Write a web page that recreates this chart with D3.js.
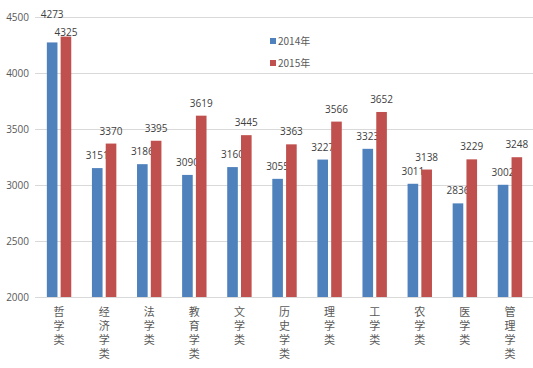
<!DOCTYPE html>
<html><head><meta charset="utf-8">
<script src="https://cdn.jsdelivr.net/npm/d3@7"></script>
<style>body{margin:0;background:#fff}svg{display:block;font-family:"Noto Sans CJK SC","Open Sans",sans-serif}.num{font-family:"Open Sans","Noto Sans",sans-serif}</style>
</head><body><svg id="c" width="533" height="368"></svg>
<script>
const categories = ["哲学类","经济学类","法学类","教育学类","文学类","历史学类","理学类","工学类","农学类","医学类","管理学类"];
const series = ["2014年","2015年"];
const values2014 = [4273,3151,3186,3090,3160,3055,3227,3323,3011,2836,3002];
const values2015 = [4325,3370,3395,3619,3445,3363,3566,3652,3138,3229,3248];
const yTicks = [2000,2500,3000,3500,4000,4500];
const colors = ["#4f81bd","#c0504d"];

const svg = d3.select("#c");
const x = d3.scaleBand().domain(categories).range([36.5,532.5]).paddingInner(0).paddingOuter(0);
const y = d3.scaleLinear().domain([2000,4500]).range([297,17]);
const xs = d3.scaleBand().domain(series).range([0,x.bandwidth()]).paddingInner(0.23).paddingOuter(0.75);

// grid
svg.append("g").selectAll("line").data(yTicks).join("line")
  .attr("x1",35).attr("x2",533).attr("y1",d=>y(d)+0.5).attr("y2",d=>y(d)+0.5)
  .attr("stroke","#d9d9d9").attr("stroke-width",1);

// y labels
svg.append("g").selectAll("text").data(yTicks).join("text")
  .attr("class","num")
  .attr("x",29).attr("y",d=>y(d)).attr("dy","0.35em").attr("text-anchor","end")
  .attr("font-size",10).attr("fill","#595959").text(d=>d);

const data = [values2014, values2015];
data.forEach((vals,si)=>{
  svg.append("g").selectAll("rect").data(vals).join("rect")
    .attr("x",(d,i)=>x(categories[i])+xs(series[si]))
    .attr("width",xs.bandwidth())
    .attr("y",d=>y(d)).attr("height",d=>y(2000)-y(d))
    .attr("fill",colors[si]);
  svg.append("g").selectAll("text").data(vals).join("text")
    .attr("class","num")
    .attr("x",(d,i)=>x(categories[i])+xs(series[si])+xs.bandwidth()/2)
    .attr("y",(d,i)=>{
      let ly = y(d)-9;
      if(i===0) ly = si===0 ? 18 : 36; // top labels squeezed by the plot edge
      return ly;
    })
    .attr("text-anchor","middle").attr("font-size",10).attr("fill","#404040").text(d=>d);
});

// category labels, vertical upright text
svg.append("g").selectAll("text").data(categories).join("text")
  .attr("x",d=>x(d)+x.bandwidth()/2).attr("y",306)
  .style("writing-mode","vertical-rl").style("text-orientation","upright")
  .attr("letter-spacing",3)
  .attr("font-size",11).attr("fill","#595959").text(d=>d);

// legend
const lg = svg.append("g");
series.forEach((s,i)=>{
  lg.append("rect").attr("x",270).attr("y",38+i*22).attr("width",6).attr("height",6).attr("fill",colors[i]);
  lg.append("text").attr("x",278).attr("y",41+i*22).attr("dy","0.35em").attr("font-size",10).attr("fill","#595959").text(s);
});
</script></body></html>
